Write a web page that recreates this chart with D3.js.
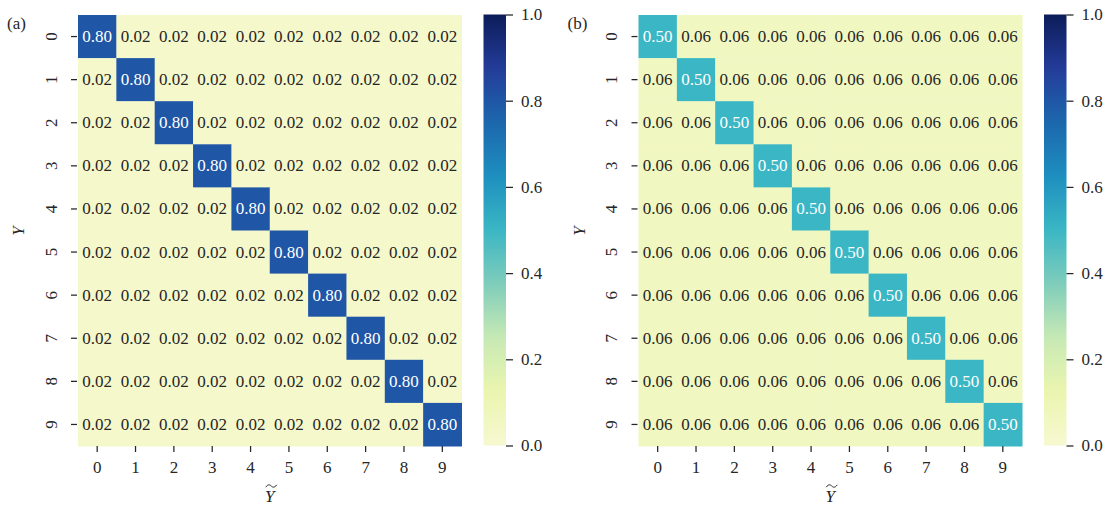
<!DOCTYPE html>
<html><head><meta charset="utf-8">
<script src="https://cdn.jsdelivr.net/npm/d3@7"></script>
<style>body{margin:0;background:#fff}svg{display:block}text{font-family:"Liberation Serif","Times New Roman",Times,serif}</style>
</head><body>
<svg id="chart" width="1115" height="506"></svg>
<script>
const categories = ["0","1","2","3","4","5","6","7","8","9"];
const matrixA = [
 [0.80,0.02,0.02,0.02,0.02,0.02,0.02,0.02,0.02,0.02],
 [0.02,0.80,0.02,0.02,0.02,0.02,0.02,0.02,0.02,0.02],
 [0.02,0.02,0.80,0.02,0.02,0.02,0.02,0.02,0.02,0.02],
 [0.02,0.02,0.02,0.80,0.02,0.02,0.02,0.02,0.02,0.02],
 [0.02,0.02,0.02,0.02,0.80,0.02,0.02,0.02,0.02,0.02],
 [0.02,0.02,0.02,0.02,0.02,0.80,0.02,0.02,0.02,0.02],
 [0.02,0.02,0.02,0.02,0.02,0.02,0.80,0.02,0.02,0.02],
 [0.02,0.02,0.02,0.02,0.02,0.02,0.02,0.80,0.02,0.02],
 [0.02,0.02,0.02,0.02,0.02,0.02,0.02,0.02,0.80,0.02],
 [0.02,0.02,0.02,0.02,0.02,0.02,0.02,0.02,0.02,0.80]
];
const matrixB = [
 [0.50,0.06,0.06,0.06,0.06,0.06,0.06,0.06,0.06,0.06],
 [0.06,0.50,0.06,0.06,0.06,0.06,0.06,0.06,0.06,0.06],
 [0.06,0.06,0.50,0.06,0.06,0.06,0.06,0.06,0.06,0.06],
 [0.06,0.06,0.06,0.50,0.06,0.06,0.06,0.06,0.06,0.06],
 [0.06,0.06,0.06,0.06,0.50,0.06,0.06,0.06,0.06,0.06],
 [0.06,0.06,0.06,0.06,0.06,0.50,0.06,0.06,0.06,0.06],
 [0.06,0.06,0.06,0.06,0.06,0.06,0.50,0.06,0.06,0.06],
 [0.06,0.06,0.06,0.06,0.06,0.06,0.06,0.50,0.06,0.06],
 [0.06,0.06,0.06,0.06,0.06,0.06,0.06,0.06,0.50,0.06],
 [0.06,0.06,0.06,0.06,0.06,0.06,0.06,0.06,0.06,0.50]
];
const panelLabels = ["(a)","(b)"];
const colorbarTicks = [0.0,0.2,0.4,0.6,0.8,1.0];
const ylgnbu = ["#f7f8d0","#ebf5b0","#c7e9b4","#7fcdbb","#3bb6c4","#1d8fbf","#1c67ac","#243c9a","#0c1c58"];

const color = d3.scaleLinear().domain(d3.range(ylgnbu.length).map(i=>i/(ylgnbu.length-1))).range(ylgnbu).interpolate(d3.interpolateRgb).clamp(true);

const svg = d3.select("#chart");
const ink = "#262626";
const fs = 17;

const defs = svg.append("defs");
const grad = defs.append("linearGradient").attr("id","cbgrad").attr("x1",0).attr("y1",1).attr("x2",0).attr("y2",0);
d3.range(0,1.0001,0.02).forEach(t=>grad.append("stop").attr("offset",t).attr("stop-color",color(t)));

function panel(ox, matrix, label){
  const g = svg.append("g").attr("transform",`translate(${ox},0)`);
  const x = d3.scaleBand().domain(categories).range([78,461.5]);
  const y = d3.scaleBand().domain(categories).range([15,446]);
  const cells = [];
  matrix.forEach((row,i)=>row.forEach((v,j)=>cells.push({r:categories[i],c:categories[j],v})));
  g.selectAll("rect.cell").data(cells).join("rect").attr("class","cell")
    .attr("x",d=>x(d.c)).attr("y",d=>y(d.r))
    .attr("width",x.bandwidth()+0.5).attr("height",y.bandwidth()+0.5)
    .attr("fill",d=>color(d.v));
  g.selectAll("text.ann").data(cells).join("text").attr("class","ann")
    .attr("x",d=>x(d.c)+x.bandwidth()/2).attr("y",d=>y(d.r)+y.bandwidth()/2)
    .attr("text-anchor","middle").attr("dominant-baseline","central")
    .attr("font-size",fs).attr("fill",d=>d.v>0.3?"#ffffff":ink)
    .text(d=>d3.format(".2f")(d.v));

  // x axis
  const xa = g.append("g").attr("transform","translate(0,446)").call(d3.axisBottom(x).tickSize(6).tickPadding(9));
  xa.select(".domain").remove();
  xa.selectAll("line").attr("stroke",ink).attr("stroke-width",1.25);
  xa.selectAll("text").attr("font-size",fs).attr("fill",ink);
  // y axis
  const ya = g.append("g").attr("transform","translate(77,0)").call(d3.axisLeft(y).tickSize(6).tickPadding(0));
  ya.select(".domain").remove();
  ya.selectAll("line").attr("stroke",ink).attr("stroke-width",1.25);
  ya.selectAll("text").attr("font-size",fs).attr("fill",ink)
    .attr("x",null).attr("dy",null).attr("text-anchor","middle").attr("dominant-baseline","central")
    .attr("transform","translate(-26,0) rotate(-90)");

  // axis labels
  const cx = (78+461.5)/2;
  g.append("text").attr("x",cx).attr("y",502).attr("text-anchor","middle")
    .attr("font-size",fs).attr("font-style","italic").attr("fill",ink).text("Y");
  const tx = cx+1.5, ty = 486;
  g.append("path").attr("fill","none").attr("stroke",ink).attr("stroke-width",1)
    .attr("d",`M${tx-5.5},${ty+1.2} C${tx-3},${ty-2.5} ${tx-1},${ty-1} ${tx},${ty} S${tx+3},${ty+2.5} ${tx+5.5},${ty-1.2}`);
  g.append("text").attr("transform","translate(24,231) rotate(-90)").attr("text-anchor","middle")
    .attr("font-size",fs).attr("font-style","italic").attr("fill",ink).text("Y");
  g.append("text").attr("x",7).attr("y",29).attr("font-size",fs).attr("fill",ink).text(label);

  // colorbar
  const cy = d3.scaleLinear().domain([0,1]).range([445.5,14.5]);
  g.append("rect").attr("x",483.5).attr("y",14.5).attr("width",22.5).attr("height",431).attr("fill","url(#cbgrad)");
  const ca = g.append("g").attr("transform","translate(506,0)").call(d3.axisRight(cy).tickValues(colorbarTicks).tickFormat(d3.format(".1f")).tickSize(7).tickPadding(8));
  ca.select(".domain").remove();
  ca.selectAll("line").attr("stroke",ink).attr("stroke-width",1.25);
  ca.selectAll("text").attr("font-size",fs).attr("fill",ink);
}
panel(0, matrixA, panelLabels[0]);
panel(560.5, matrixB, panelLabels[1]);
</script>
</body></html>
